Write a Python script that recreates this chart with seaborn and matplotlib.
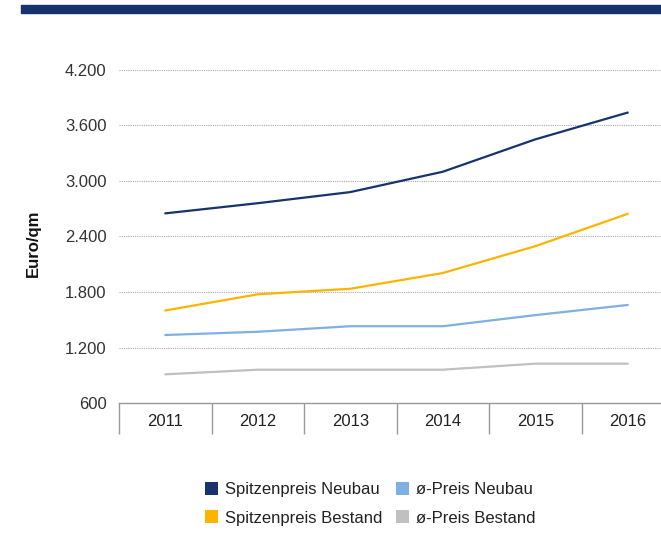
import pandas as pd
import numpy as np
import matplotlib
matplotlib.use("Agg")
import matplotlib.pyplot as plt
from matplotlib.patches import Patch, Rectangle
import seaborn as sns

# Values (Euro/qm)
years = ["2011", "2012", "2013", "2014", "2015", "2016"]
spitze_neubau = [2650, 2760, 2880, 3100, 3450, 3740]
schnitt_neubau = [1335, 1370, 1430, 1430, 1550, 1660]
spitze_bestand = [1600, 1775, 1835, 2005, 2295, 2645]
schnitt_bestand = [910, 960, 960, 960, 1025, 1025]

series_names = ["Spitzenpreis Neubau", "ø-Preis Neubau", "Spitzenpreis Bestand", "ø-Preis Bestand"]
colors = ["#17336f", "#7fb0e2", "#fbb400", "#c0c0c0"]
y_ticks = [600, 1200, 1800, 2400, 3000, 3600, 4200]

df = pd.DataFrame({
    "Jahr": years * 4,
    "Wert": spitze_neubau + schnitt_neubau + spitze_bestand + schnitt_bestand,
    "Serie": sum([[n] * len(years) for n in series_names], []),
})

sns.set_style("white")
plt.rcParams["font.family"] = ["Liberation Sans Narrow", "Liberation Sans", "DejaVu Sans"]

fig = plt.figure(figsize=(6.61, 5.56), dpi=100)
ax = fig.add_axes([119 / 661, 153 / 556, 555 / 661, 333 / 556])

sns.lineplot(data=df, x="Jahr", y="Wert", hue="Serie", hue_order=series_names,
             palette=colors, linewidth=1.6, sort=False, legend=False, ax=ax)

ax.set_xlim(-0.5, 5.5)
ax.set_ylim(600, 4200)
ax.set_yticks(y_ticks)
ax.set_yticklabels([f"{v:,}".replace(",", ".") for v in y_ticks], fontsize=12, color="#333333")
ax.tick_params(axis="y", length=0, pad=9)
ax.yaxis.grid(True, linestyle=(0, (1, 1)), color="#aaaaaa", linewidth=0.8)
ax.set_axisbelow(True)

# category boundaries as long ticks, labels in between
ax.set_xticks(np.arange(-0.5, 6, 1))
ax.set_xticklabels([])
ax.tick_params(axis="x", which="major", bottom=True, length=22, color="#999999", width=1)
ax.set_xticks(range(len(years)), minor=True)
ax.set_xticklabels(years, minor=True, fontsize=12, color="#222222")
ax.tick_params(axis="x", which="minor", bottom=True, length=0, pad=8)
ax.set_xlabel("")

for s in ["top", "right", "left"]:
    ax.spines[s].set_visible(False)
ax.spines["bottom"].set_color("#999999")
ax.spines["bottom"].set_linewidth(1)

ax.set_ylabel("Euro/qm", fontsize=12, fontweight="bold", color="#111111")
ax.yaxis.set_label_coords(-0.14, 0.48)

# navy bar on top
fig.patches.append(Rectangle((21 / 661, 1 - 13 / 556), 1, 8 / 556,
                             transform=fig.transFigure, color="#17336f"))

order = [0, 2, 1, 3]
handles = [Patch(facecolor=colors[i], edgecolor="none") for i in order]
fig.legend(handles, [series_names[i] for i in order], ncol=2, frameon=False,
           loc="center", bbox_to_anchor=(0.56, 0.094), fontsize=12,
           handlelength=0.8, handleheight=0.8, handletextpad=0.4,
           columnspacing=0.8, labelspacing=0.8, labelcolor="#222222")

fig.savefig("out.png", dpi=100)
